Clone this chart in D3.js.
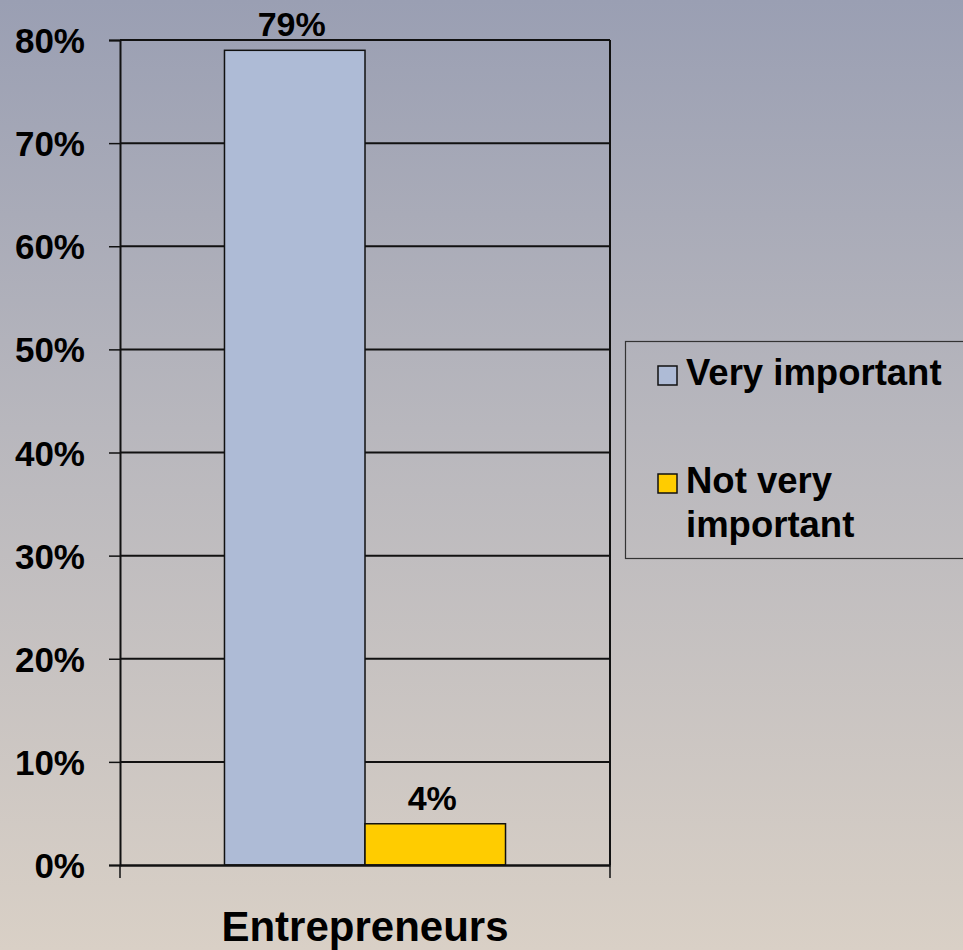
<!DOCTYPE html>
<html>
<head>
<meta charset="utf-8">
<script src="https://cdn.jsdelivr.net/npm/d3@7"></script>
<style>
  html, body { margin: 0; padding: 0; overflow: hidden; }
  svg { display: block; }
</style>
</head>
<body>
<svg id="chart" width="963" height="950"></svg>
<script>
// Survey data
const categories = ["Entrepreneurs"];
const seriesNames = ["Very important", "Not very important"];
const seriesValues = [79, 4];
const seriesColors = ["#aebbd6", "#ffcc00"];
const yTicks = [0, 10, 20, 30, 40, 50, 60, 70, 80];

const svg = d3.select("#chart");
const W = 963, H = 950;
const FONT = "'Liberation Sans', Arial, sans-serif";

// Background gradient
const defs = svg.append("defs");
const grad = defs.append("linearGradient")
  .attr("id", "bg").attr("x1", 0).attr("y1", 0).attr("x2", 0).attr("y2", 1);
grad.append("stop").attr("offset", "0%").attr("stop-color", "#9a9fb3");
grad.append("stop").attr("offset", "45%").attr("stop-color", "#b8b7bd");
grad.append("stop").attr("offset", "100%").attr("stop-color", "#d9d0c6");
svg.append("rect").attr("width", W).attr("height", H).attr("fill", "url(#bg)");

// Plot area
const plot = { left: 120, right: 610, top: 40, bottom: 865 };

const y = d3.scaleLinear().domain([0, 80]).range([plot.bottom, plot.top]);
const x = d3.scaleBand().domain(categories)
  .range([plot.left, plot.right]).paddingInner(0.271).paddingOuter(0.271);
const xs = d3.scaleBand().domain(seriesNames).range([0, x.bandwidth()]).padding(0);

// Horizontal gridlines
svg.append("g").selectAll("line").data(yTicks.filter(d => d > 0)).join("line")
  .attr("x1", plot.left).attr("x2", plot.right)
  .attr("y1", d => y(d)).attr("y2", d => y(d))
  .attr("stroke", "#111").attr("stroke-width", 2);

// Right border of the plot area
svg.append("line")
  .attr("x1", plot.right).attr("x2", plot.right)
  .attr("y1", plot.top).attr("y2", plot.bottom)
  .attr("stroke", "#111").attr("stroke-width", 2);

// Y axis
const yAxis = d3.axisLeft(y).tickValues(yTicks).tickSize(11).tickPadding(24)
  .tickFormat(d => d + "%");
const gy = svg.append("g").attr("transform", `translate(${plot.left},0)`).call(yAxis);
gy.select(".domain").attr("stroke", "#111").attr("stroke-width", 2);
gy.selectAll(".tick line").attr("stroke", "#111").attr("stroke-width", 1.5);
gy.selectAll(".tick text")
  .attr("font-family", FONT).attr("font-weight", "bold")
  .attr("font-size", 35).attr("fill", "#000")
  .attr("dy", "0.36em");

// Bars
const g = svg.append("g").attr("transform", `translate(${x(categories[0])},0)`);
g.selectAll("rect").data(seriesValues).join("rect")
  .attr("x", (d, i) => xs(seriesNames[i]))
  .attr("width", xs.bandwidth())
  .attr("y", d => y(d))
  .attr("height", d => y(0) - y(d))
  .attr("fill", (d, i) => seriesColors[i])
  .attr("stroke", "#111").attr("stroke-width", 1.5);

// Value labels
g.selectAll("text.val").data(seriesValues).join("text")
  .attr("class", "val")
  .attr("x", (d, i) => xs(seriesNames[i]) + xs.bandwidth() / 2 - 3)
  .attr("y", d => y(d) - 14)
  .attr("text-anchor", "middle")
  .attr("font-family", FONT).attr("font-weight", "bold")
  .attr("font-size", 34).attr("fill", "#000")
  .text(d => d + "%");

// X axis baseline and category label
const xAxis = d3.axisBottom(x).tickSize(0).tickPadding(46);
const gx = svg.append("g").attr("transform", `translate(0,${plot.bottom})`).call(xAxis);
gx.select(".domain").attr("stroke", "#111").attr("stroke-width", 2.5);
gx.selectAll(".tick text")
  .attr("font-family", FONT).attr("font-weight", "bold")
  .attr("font-size", 42).attr("fill", "#000");
// Category boundary ticks
svg.append("g").selectAll("line").data([plot.left, plot.right]).join("line")
  .attr("x1", d => d).attr("x2", d => d)
  .attr("y1", plot.bottom).attr("y2", plot.bottom + 13)
  .attr("stroke", "#111").attr("stroke-width", 1.5);

// Legend
const legend = svg.append("g");
legend.append("rect")
  .attr("x", 625.5).attr("y", 341.5).attr("width", 360).attr("height", 217)
  .attr("fill", "none").attr("stroke", "#333").attr("stroke-width", 1.2);

const legendLines = [["Very important"], ["Not very", "important"]];
const legendTop = [366, 474];
seriesNames.forEach((name, i) => {
  legend.append("rect")
    .attr("x", 658).attr("y", legendTop[i]).attr("width", 19).attr("height", 19)
    .attr("fill", seriesColors[i]).attr("stroke", "#111").attr("stroke-width", 1.5);
  const t = legend.append("text")
    .attr("font-family", FONT).attr("font-weight", "bold")
    .attr("font-size", 36.5).attr("fill", "#000");
  legendLines[i].forEach((line, j) => {
    t.append("tspan").attr("x", 686).attr("y", legendTop[i] + 19 + j * 44).text(line);
  });
});
</script>
</body>
</html>
